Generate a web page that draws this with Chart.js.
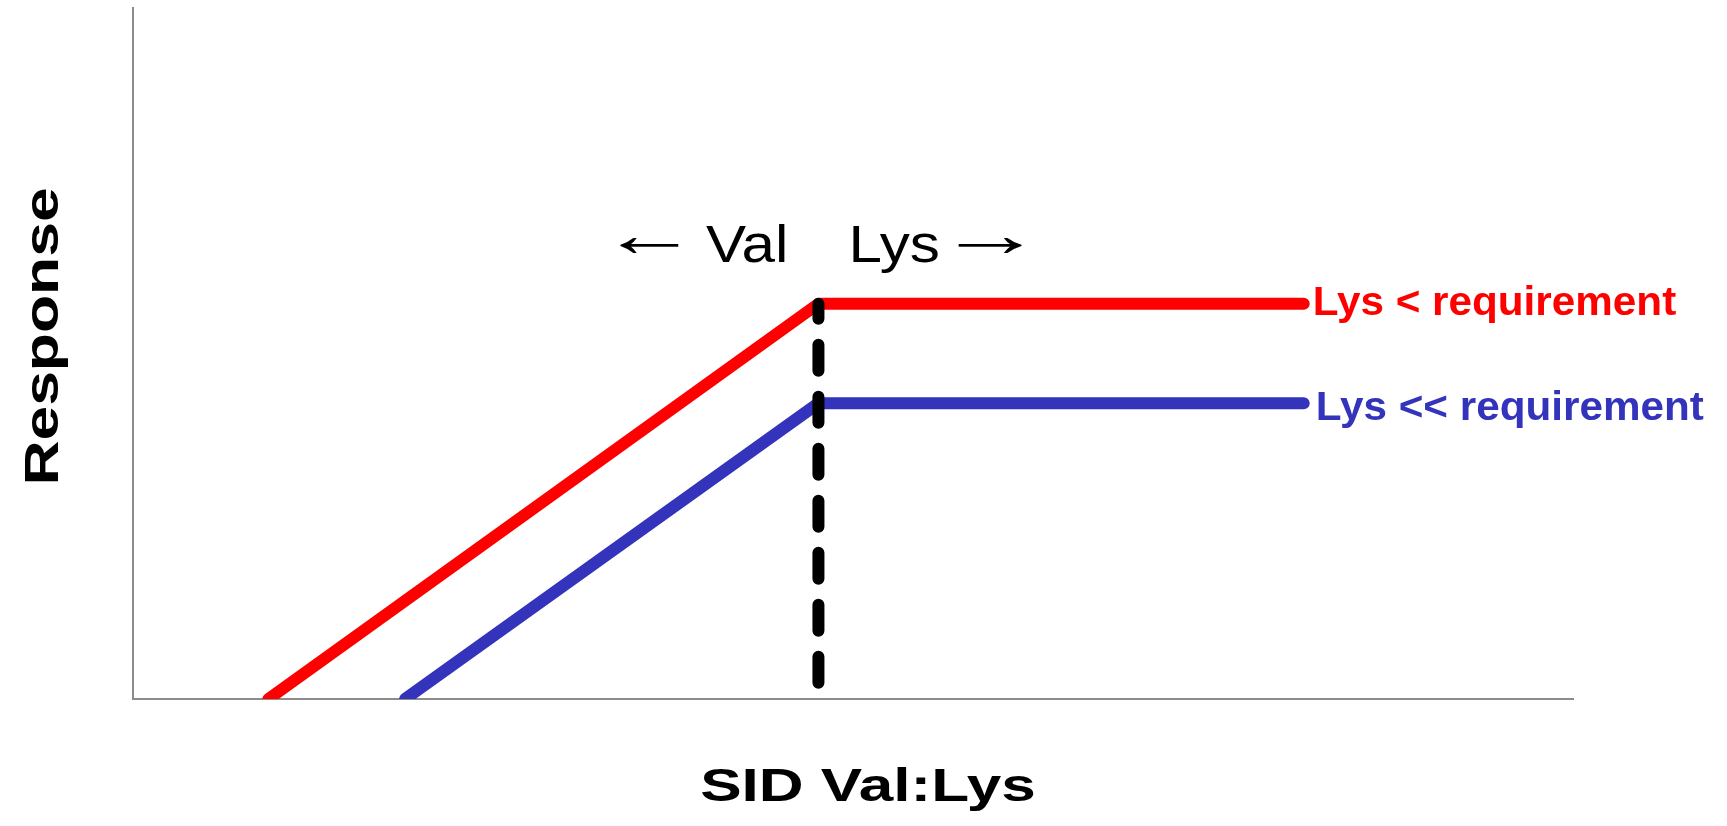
<!DOCTYPE html>
<html>
<head>
<meta charset="utf-8">
<script src="https://cdn.jsdelivr.net/npm/chart.js@4"></script>
<style>
  html, body { margin: 0; padding: 0; background: #ffffff; }
  #wrap { width: 1727px; height: 826px; position: relative; }
</style>
</head>
<body>
<div id="wrap"><canvas id="c"></canvas></div>
<script>
// ---- data ----
const seriesLabels = ['Lys < requirement', 'Lys << requirement'];
const redX  = [9.4, 47.6, 81.3];
const redY  = [0, 57.2, 57.2];
const blueX = [18.9, 47.6, 81.3];
const blueY = [0, 42.8, 42.8];
const dashX = [47.6, 47.6];
const dashY = [57.2, 0];
const xTitle = 'SID Val:Lys';
const yTitle = 'Response';
const leftNote = 'Val';
const rightNote = 'Lys';
const leftArrow = '\u2190';
const rightArrow = '\u2192';

const RED = '#ff0000';
const BLUE = '#3333bb';

function pts(xs, ys) { return xs.map((v, i) => ({ x: v, y: ys[i] })); }

const annot = {
  id: 'annot',
  afterDatasetsDraw(chart) {
    const ctx = chart.ctx;
    const a = chart.chartArea;
    const F = '"Liberation Sans", Arial, sans-serif';
    function txt(s, px, py, font, color, align, sx, rot) {
      ctx.save();
      ctx.translate(px, py);
      if (rot) ctx.rotate(rot);
      ctx.scale(sx, 1);
      ctx.font = font;
      ctx.fillStyle = color;
      ctx.textAlign = align;
      ctx.textBaseline = 'alphabetic';
      ctx.fillText(s, 0, 0);
      ctx.restore();
    }
    // draw an arrow glyph so that its ink spans [inkLeft, inkLeft + inkW]
    function arrow(s, inkLeft, py, inkW) {
      const font = '64px ' + F;
      ctx.save();
      ctx.font = font;
      ctx.textAlign = 'left';
      ctx.textBaseline = 'alphabetic';
      const m = ctx.measureText(s);
      const w = m.actualBoundingBoxLeft + m.actualBoundingBoxRight;
      const sx = inkW / w;
      ctx.translate(inkLeft, py);
      ctx.scale(sx, 1);
      ctx.fillStyle = '#000';
      ctx.fillText(s, m.actualBoundingBoxLeft, 0);
      ctx.restore();
    }
    // series labels at line ends
    const redEnd = chart.getDatasetMeta(1).data[redX.length - 1];
    const blueEnd = chart.getDatasetMeta(2).data[blueX.length - 1];
    txt(seriesLabels[0], redEnd.x + 9, redEnd.y + 11, 'bold 40px ' + F, RED, 'left', 1.056, 0);
    txt(seriesLabels[1], blueEnd.x + 12, blueEnd.y + 17, 'bold 40px ' + F, BLUE, 'left', 1.056, 0);
    // Val / Lys notes around the breakpoint
    const corner = chart.getDatasetMeta(1).data[1];
    txt(leftNote, corner.x - 30, corner.y - 42, '51px ' + F, '#000', 'right', 1.18, 0);
    txt(rightNote, corner.x + 30, corner.y - 42, '51px ' + F, '#000', 'left', 1.18, 0);
    arrow(leftArrow, corner.x - 198, corner.y - 48, 58);
    arrow(rightArrow, corner.x + 140, corner.y - 48, 63);
    // axis titles
    txt(xTitle, (a.left + a.right) / 2 + 15, a.bottom + 102, 'bold 47px ' + F, '#000', 'center', 1.32, 0);
    txt(yTitle, a.left - 75, (a.top + a.bottom) / 2 - 17, 'bold 48px ' + F, '#000', 'center', 1.30, -Math.PI / 2);
  }
};

new Chart(document.getElementById('c'), {
  type: 'line',
  data: {
    datasets: [
      {
        label: 'break',
        data: pts(dashX, dashY),
        borderColor: '#000000',
        borderWidth: 12,
        borderDash: [26, 26],
        borderDashOffset: 11,
        borderCapStyle: 'round',
        pointRadius: 0,
        order: 0
      },
      {
        label: seriesLabels[0],
        data: pts(redX, redY),
        borderColor: RED,
        borderWidth: 12,
        borderCapStyle: 'round',
        borderJoinStyle: 'round',
        pointRadius: 0,
        order: 1
      },
      {
        label: seriesLabels[1],
        data: pts(blueX, blueY),
        borderColor: BLUE,
        borderWidth: 12,
        borderCapStyle: 'round',
        borderJoinStyle: 'round',
        pointRadius: 0,
        order: 2
      }
    ]
  },
  options: {
    responsive: true,
    maintainAspectRatio: false,
    animation: false,
    events: [],
    layout: { padding: { left: 133, right: 154, top: 8, bottom: 127 } },
    plugins: { legend: { display: false }, tooltip: { enabled: false } },
    scales: {
      x: {
        type: 'linear', min: 0, max: 100,
        ticks: { display: false },
        grid: { display: false, drawTicks: false },
        border: { display: true, color: '#8c8c8c', width: 2 },
        afterFit(s) { s.height = 0; }
      },
      y: {
        type: 'linear', min: 0, max: 100,
        ticks: { display: false },
        grid: { display: false, drawTicks: false },
        border: { display: true, color: '#8c8c8c', width: 2 },
        afterFit(s) { s.width = 0; }
      }
    }
  },
  plugins: [annot]
});
</script>
</body>
</html>
